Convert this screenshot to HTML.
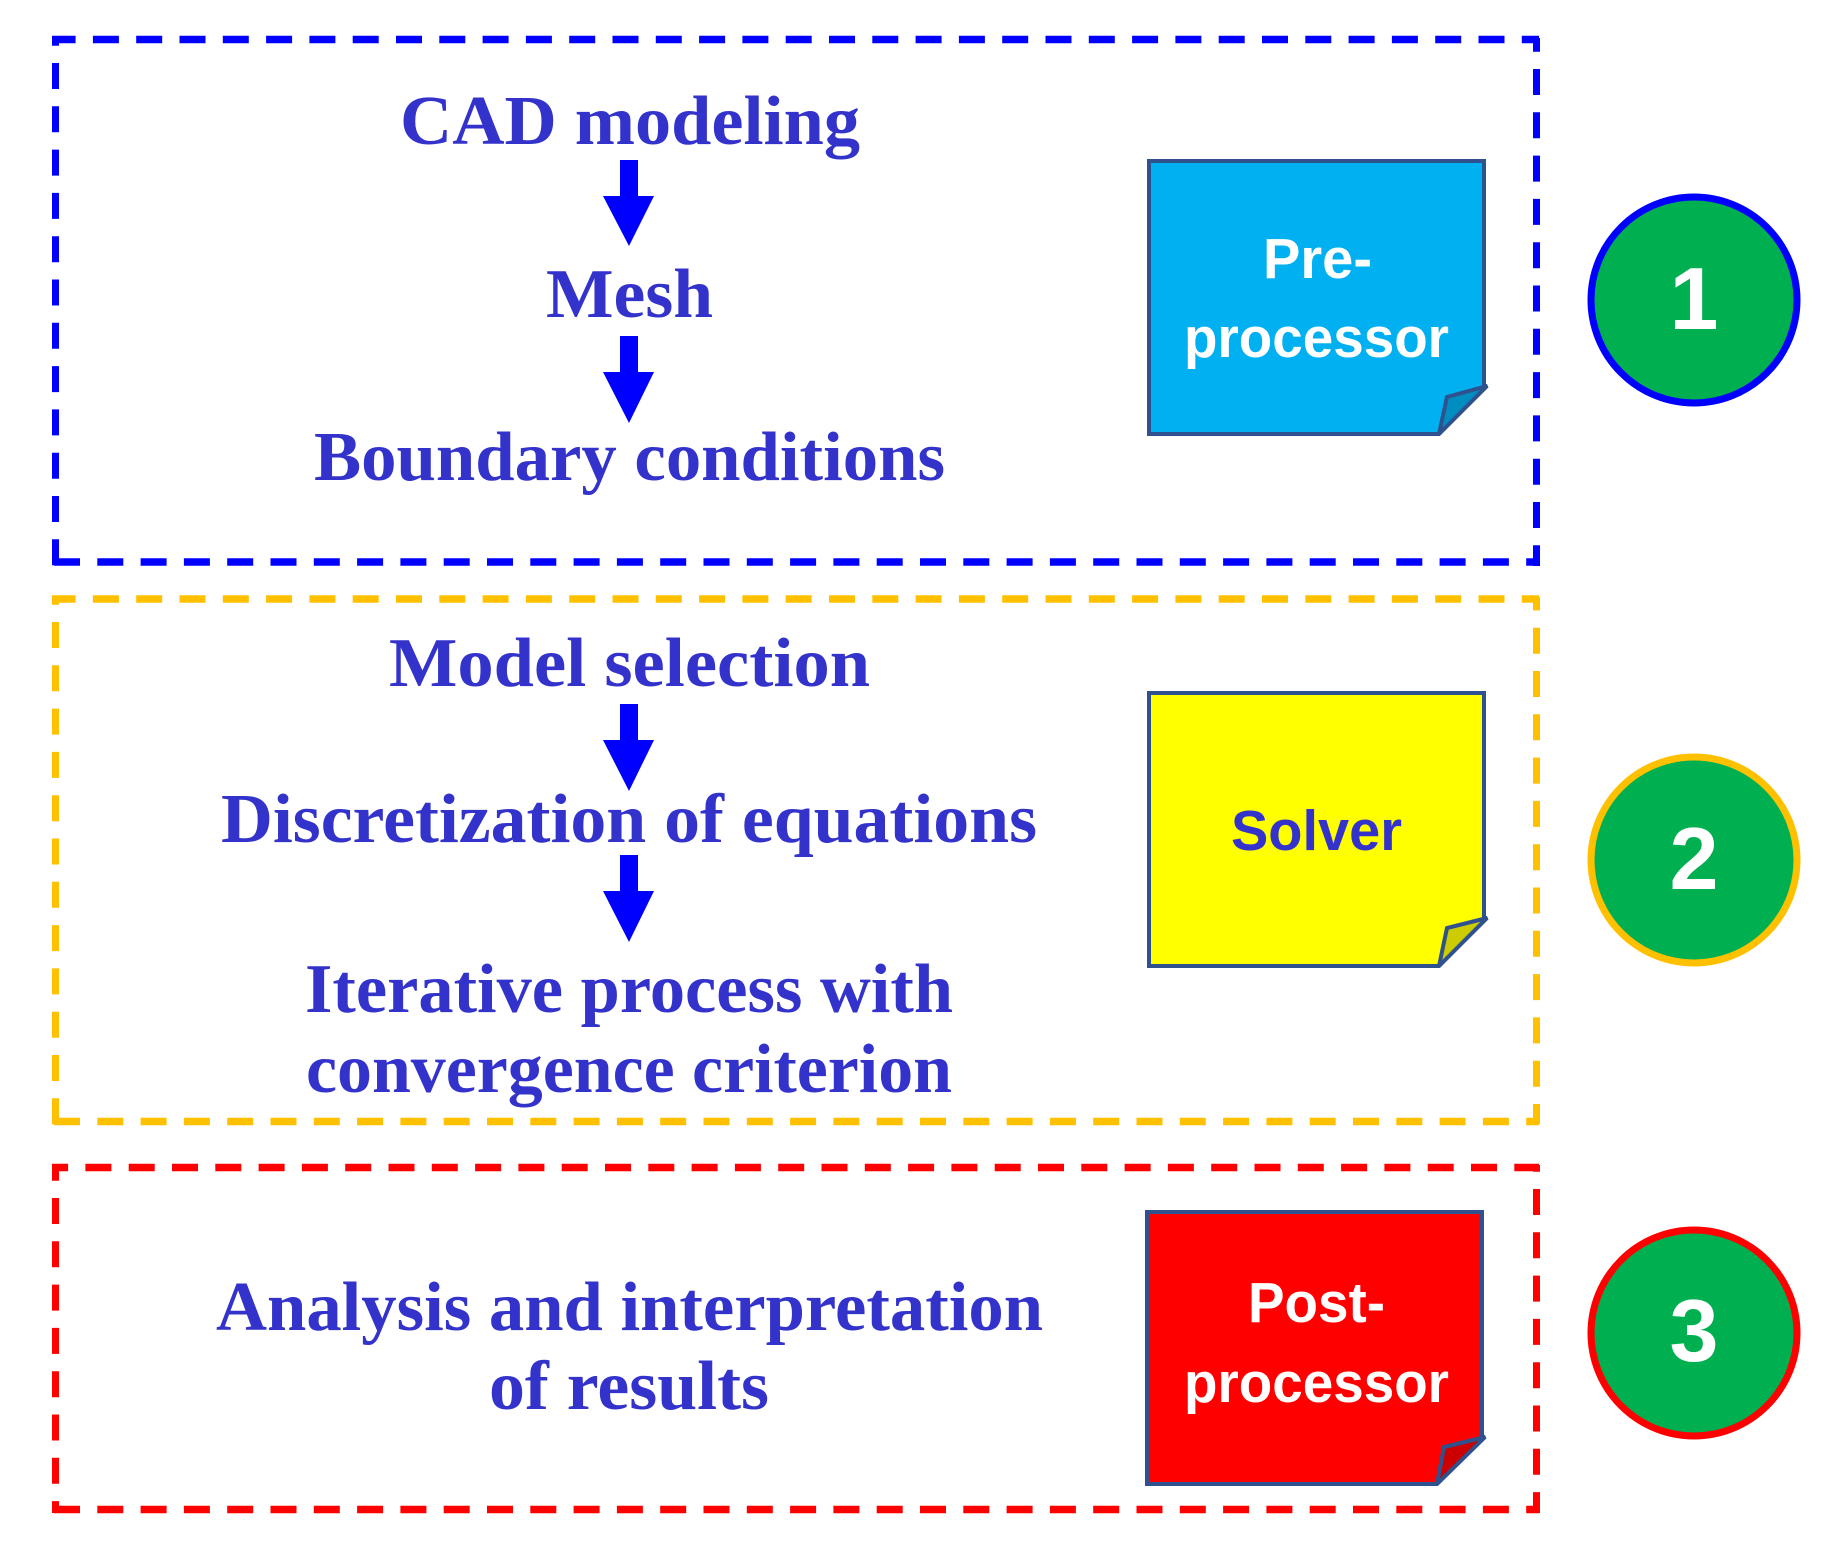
<!DOCTYPE html>
<html><head><meta charset="utf-8">
<style>
html,body{margin:0;padding:0;background:#fff}
svg{display:block}
.s{font-family:"Liberation Serif",serif;font-weight:bold;font-size:70px;fill:#3333CC}
.c{font-family:"Liberation Sans",sans-serif;font-weight:bold;font-size:57px;fill:#fff}
.n{font-family:"Liberation Sans",sans-serif;font-weight:bold;font-size:88px;fill:#fff}
</style></head><body>
<svg width="1847" height="1554" viewBox="0 0 1847 1554" xmlns="http://www.w3.org/2000/svg">
<rect width="1847" height="1554" fill="#fff"/>
<g fill="none" stroke-dasharray="26 17.3">
<g stroke-width="7.5">
<path d="M52 39.5H1539" stroke="#0000FF" stroke-dashoffset="2.4"/>
<path d="M54 562H1539" stroke="#0000FF"/>
<path d="M52 599H1539" stroke="#FFC000" stroke-dashoffset="2.4"/>
<path d="M54 1121.5H1539" stroke="#FFC000"/>
<path d="M52 1167.5H1539" stroke="#FF0000" stroke-dashoffset="9.9"/>
<path d="M54 1509.5H1539" stroke="#FF0000"/>
</g>
<g stroke-width="7">
<path d="M55.5 36V566" stroke="#0000FF" stroke-dashoffset="16.3"/>
<path d="M1536.5 38V566" stroke="#0000FF" stroke-dashoffset="12.3"/>
<path d="M55.5 596V1125" stroke="#FFC000" stroke-dashoffset="17.3"/>
<path d="M1536.5 597V1124" stroke="#FFC000" stroke-dashoffset="12.6"/>
<path d="M55.5 1164V1513" stroke="#FF0000" stroke-dashoffset="9.3"/>
<path d="M1536.5 1165V1513" stroke="#FF0000" stroke-dashoffset="19.3"/>
</g>
</g>
<g fill="#0000FF">
<path d="M620 160H638V196H654L629 246L603 196H620Z"/>
<path d="M620 336H638V372H654L629 423L603 372H620Z"/>
<path d="M620 704H638V740H654L629 791L603 740H620Z"/>
<path d="M620 855H638V891H654L629 942L603 891H620Z"/>
</g>
<text class="s" x="400" y="144" textLength="460" lengthAdjust="spacingAndGlyphs">CAD modeling</text>
<text class="s" x="546" y="317" textLength="167" lengthAdjust="spacingAndGlyphs">Mesh</text>
<text class="s" x="314" y="480" textLength="631" lengthAdjust="spacingAndGlyphs">Boundary conditions</text>
<text class="s" x="389" y="686" textLength="481" lengthAdjust="spacingAndGlyphs">Model selection</text>
<text class="s" x="221" y="842" textLength="816" lengthAdjust="spacingAndGlyphs">Discretization of equations</text>
<text class="s" x="305" y="1012" textLength="648" lengthAdjust="spacingAndGlyphs">Iterative process with</text>
<text class="s" x="306" y="1092" textLength="646" lengthAdjust="spacingAndGlyphs">convergence criterion</text>
<text class="s" x="216" y="1330" textLength="827" lengthAdjust="spacingAndGlyphs">Analysis and interpretation</text>
<text class="s" x="489" y="1409" textLength="280" lengthAdjust="spacingAndGlyphs">of results</text>
<g stroke="#2F528F" stroke-width="4" stroke-linejoin="miter" stroke-miterlimit="2">
<path d="M1149 161H1484V386H1487L1439 434H1149Z" fill="#00B0F0"/>
<path d="M1439 434L1447 397L1487 386Z" fill="#008DC0"/>
<path d="M1149 693H1484V918H1487L1439 966H1149Z" fill="#FFFF00"/>
<path d="M1439 966L1447 928L1487 918Z" fill="#CCCC00"/>
<path d="M1147 1212H1482V1437H1485L1437 1484H1147Z" fill="#FF0000"/>
<path d="M1437 1484L1444 1447L1485 1437Z" fill="#CC0000"/>
</g>
<text class="c" x="1263" y="278" textLength="109" lengthAdjust="spacingAndGlyphs">Pre-</text>
<text class="c" x="1184" y="357" textLength="265" lengthAdjust="spacingAndGlyphs">processor</text>
<text class="c" x="1231" y="850" textLength="171" lengthAdjust="spacingAndGlyphs" style="fill:#3333CC">Solver</text>
<text class="c" x="1248" y="1322" textLength="137" lengthAdjust="spacingAndGlyphs">Post-</text>
<text class="c" x="1184" y="1402" textLength="265" lengthAdjust="spacingAndGlyphs">processor</text>
<g fill="#00B050" stroke-width="7">
<ellipse cx="1694" cy="300" rx="103" ry="103" stroke="#0000FF"/>
<ellipse cx="1694" cy="860" rx="103" ry="103" stroke="#FFC000"/>
<ellipse cx="1694" cy="1333" rx="103" ry="103" stroke="#FF0000"/>
</g>
<text class="n" x="1694" y="329" text-anchor="middle">1</text>
<text class="n" x="1694" y="889" text-anchor="middle">2</text>
<text class="n" x="1694" y="1361" text-anchor="middle">3</text>
</svg>
</body></html>
